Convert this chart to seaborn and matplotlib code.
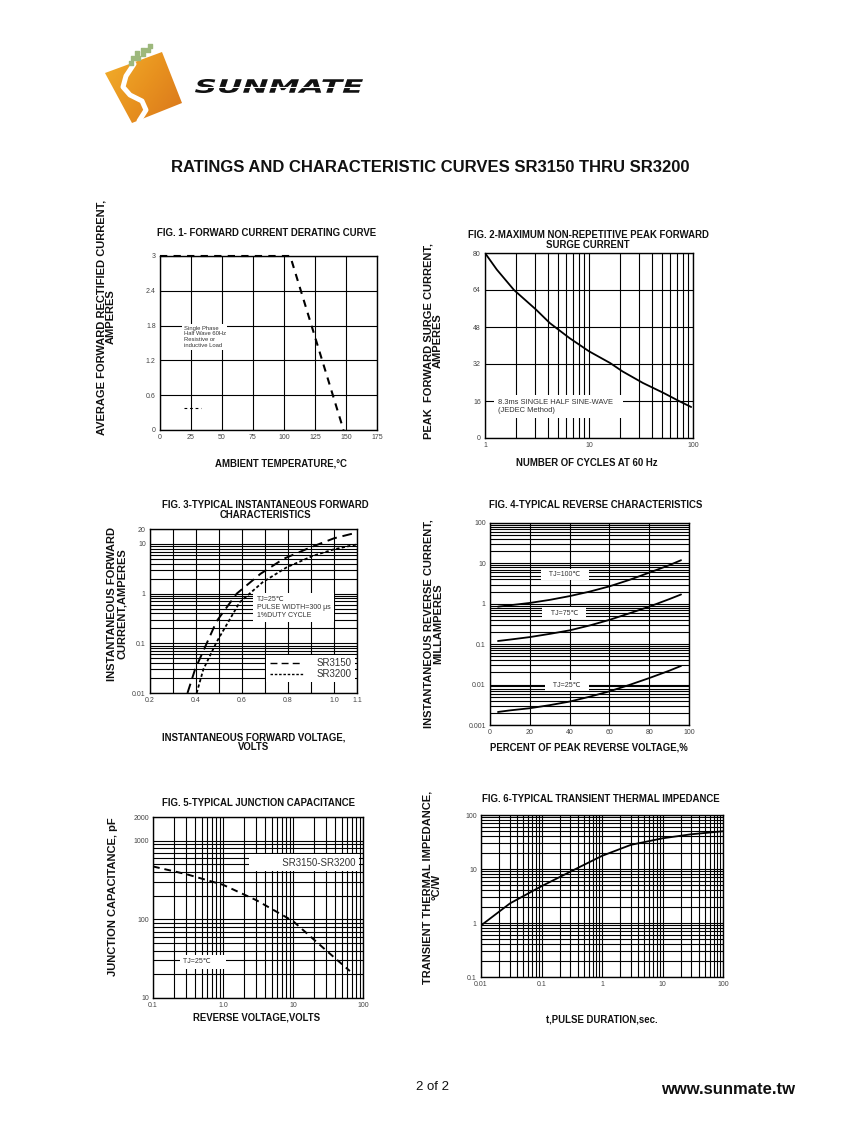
import numpy as np
import matplotlib
matplotlib.use("Agg")
import matplotlib.pyplot as plt
import seaborn as sns
from matplotlib.ticker import LogLocator, NullFormatter
from matplotlib.patches import Polygon, PathPatch
from matplotlib.lines import Line2D
from matplotlib.textpath import TextPath
from matplotlib.font_manager import FontProperties
from matplotlib.transforms import Affine2D
from matplotlib.colors import LinearSegmentedColormap

sns.set_theme(style="white")
plt.rcParams['font.family'] = ['Liberation Sans', 'DejaVu Sans']

# ---------------- data ----------------
# Fig. 1 forward current derating
fig1_temp = [0, 105, 148]
fig1_current = [3.0, 3.0, 0.0]

# Fig. 2 peak forward surge current
fig2_cycles = [1, 1.3, 1.9, 3.1, 4.2, 6.5, 10, 16, 21, 33, 52, 74, 96]
fig2_current = [80, 72.8, 64, 55.5, 49.7, 43.2, 37.5, 32.4, 28.8, 23.8, 19.5, 15.9, 13.4]

# Fig. 3 instantaneous forward characteristics
fig3_v_sr3150 = [0.363, 0.396, 0.49, 0.577, 0.68, 0.78, 0.897, 1.0, 1.1]
fig3_i_sr3150 = [0.01, 0.03, 0.28, 1.0, 2.5, 5.0, 8.5, 13, 17]
fig3_v_sr3200 = [0.403, 0.432, 0.49, 0.59, 0.69, 0.795, 0.91, 1.0, 1.1]
fig3_i_sr3200 = [0.01, 0.03, 0.107, 0.67, 1.7, 3.4, 5.8, 7.8, 9.8]

# Fig. 4 reverse characteristics
fig4_pct = [4, 10, 20, 30, 40, 50, 60, 70, 80, 90, 96]
fig4_tj100 = [0.85, 0.92, 1.05, 1.25, 1.55, 2.0, 2.7, 3.9, 5.9, 9.0, 12]
fig4_tj75 = [0.12, 0.13, 0.15, 0.18, 0.22, 0.29, 0.40, 0.58, 0.85, 1.3, 1.7]
fig4_tj25 = [0.0021, 0.0023, 0.0026, 0.0031, 0.0038, 0.005, 0.0068, 0.0098, 0.0145, 0.022, 0.029]

# Fig. 5 junction capacitance
fig5_volt = [0.1, 0.3, 1, 3, 10, 30, 65]
fig5_cap = [470, 375, 275, 175, 95, 40, 22]

# Fig. 6 transient thermal impedance
fig6_t = [0.01, 0.03, 0.1, 0.4, 1, 3, 10, 30, 100]
fig6_z = [0.9, 2.3, 4.8, 10.5, 17.5, 28, 37, 44, 50]

W, H = 847, 1125
fig = plt.figure(figsize=(W / 100, H / 100), dpi=100)

# page overlay in pixel coordinates (logo, titles, axis labels)
page = fig.add_axes([0, 0, 1, 1])
page.set_xlim(0, W)
page.set_ylim(H, 0)
page.axis('off')


def add_ax(l, t, r, b):
    return fig.add_axes([l / W, 1 - b / H, (r - l) / W, (b - t) / H])


def style(ax):
    ax.set_axisbelow(True)
    ax.grid(True, which='both', color='black', lw=0.8)
    ax.tick_params(which='both', length=0, labelsize=5.0, labelcolor='#444', pad=3)
    for s in ax.spines.values():
        s.set_color('black')
        s.set_linewidth(1.0)


def log_minor(axis):
    axis.set_minor_locator(LogLocator(base=10, subs=np.arange(2, 10) * 1.0, numticks=50))
    axis.set_minor_formatter(NullFormatter())


box = dict(boxstyle='square,pad=0.3', fc='white', ec='none')
title_kw = dict(fontsize=6.9, fontweight='bold', ha='center', va='center', linespacing=1.0, color='#111')
ylab_kw = dict(fontsize=8, fontweight='bold', ha='center', va='center', rotation=90,
               linespacing=0.95, multialignment='center', color='#111')
xlab_kw = dict(fontsize=6.9, fontweight='bold', ha='center', va='center', linespacing=1.0, color='#111')
TJ = 'TJ=25\u2103'

# ---------------- logo ----------------
sq = Polygon([(105, 73), (162, 52), (182, 103), (132, 123)], closed=True,
             fc='none', ec='none')
page.add_patch(sq)
grad = np.add.outer(np.linspace(0, 0.4, 64), np.linspace(0, 0.6, 64))
orange = LinearSegmentedColormap.from_list('o', ['#f3b12c', '#e8921f', '#d8741b'])
im = page.imshow(grad, cmap=orange, extent=(103, 185, 126, 50), aspect='auto', zorder=1)
im.set_clip_path(sq)
page.plot([134, 126, 123, 130, 142, 146, 139], [64, 76, 87, 95, 101, 110, 121],
          color='white', lw=3.6, solid_capstyle='round', solid_joinstyle='round', zorder=2)
page.scatter([150, 143, 148, 137, 143, 133, 138, 131], [46, 50, 50, 53, 54, 58, 58, 63],
             s=5, marker='s', color='#9db87c', zorder=2)
fp = FontProperties(family='DejaVu Sans', weight='bold', style='italic')
tp = TextPath((0, 0), 'SUNMATE', size=20, prop=fp)
ext = tp.get_extents()
tr = Affine2D().translate(-ext.x0, -ext.y0).scale(168 / ext.width, -14 / ext.height).translate(195, 93)
page.add_patch(PathPatch(tp, transform=tr + page.transData, fc='#111', ec='none', zorder=2))
page.plot([195, 363], [86.5, 86.5], color='white', lw=0.8, zorder=3)

page.text(430, 167, 'RATINGS AND CHARACTERISTIC CURVES SR3150 THRU SR3200',
          fontsize=12, fontweight='bold', ha='center', va='center', color='#111')
page.text(433, 1087, '2 of 2', fontsize=9.5, ha='center', va='center', color='#111')
page.text(728, 1090, 'www.sunmate.tw', fontsize=12, fontweight='bold', ha='center', va='center', color='#111')

# ---------------- Fig. 1 ----------------
ax1 = add_ax(160, 256, 377, 430)
sns.lineplot(x=fig1_temp, y=fig1_current, ax=ax1, color='black', lw=1.5,
             linestyle=(0, (3.5, 3)), estimator=None, zorder=5, clip_on=False)
ax1.set_xlim(0, 175)
ax1.set_ylim(0, 3)
ax1.set_xticks(np.arange(0, 176, 25))
ax1.set_yticks([0, 0.6, 1.2, 1.8, 2.4, 3])
ax1.set_yticklabels(['0', '0.6', '1.2', '1.8', '2.4', '3'])
style(ax1)
ax1.text(19, 1.80, 'Single Phase\nHalf Wave 60Hz\nResistive or\ninductive Load', fontsize=4.2,
         ha='left', va='top', color='#333', bbox=box, zorder=3)
ax1.legend(handles=[Line2D([], [], color='black', lw=0.8, ls=(0, (2.5, 2.5)))], labels=[''],
           loc='center', bbox_to_anchor=(0.16, 0.123), frameon=False, handlelength=3.2, fontsize=4)
page.text(267, 233, 'FIG. 1- FORWARD CURRENT DERATING CURVE', **title_kw)
page.text(106, 317, 'AVERAGE FORWARD RECTIFIED CURRENT,\nAMPERES', **ylab_kw)
page.text(281, 463, 'AMBIENT TEMPERATURE,\u00b0C', **xlab_kw)

# ---------------- Fig. 2 ----------------
ax2 = add_ax(485, 253, 693, 438)
ax2.set_xscale('log')
sns.lineplot(x=fig2_cycles, y=fig2_current, ax=ax2, color='black', lw=1.3, estimator=None, zorder=4)
ax2.set_xlim(1, 100)
ax2.set_ylim(0, 80)
ax2.set_xticks([1, 10, 100])
ax2.set_xticklabels(['1', '10', '100'])
log_minor(ax2.xaxis)
ax2.set_yticks([0, 16, 32, 48, 64, 80])
style(ax2)
ax2.text(1.33, 16.9, '8.3ms SINGLE HALF SINE-WAVE   \n(JEDEC Method)', fontsize=5.4, ha='left', va='top',
         color='#333', linespacing=1.3, bbox=dict(boxstyle='square,pad=0.5', fc='white', ec='none'), zorder=3)
page.text(588, 239.5, 'FIG. 2-MAXIMUM NON-REPETITIVE PEAK FORWARD\nSURGE CURRENT', **title_kw)
page.text(433, 341, 'PEAK  FORWARD SURGE CURRENT,\nAMPERES', **ylab_kw)
page.text(587, 463, 'NUMBER OF CYCLES AT 60 Hz', **xlab_kw)

# ---------------- Fig. 3 ----------------
ax3 = add_ax(150, 529, 357, 693)
ax3.set_yscale('log')
sns.lineplot(x=fig3_v_sr3150, y=fig3_i_sr3150, ax=ax3, color='black', lw=1.4,
             linestyle=(0, (5, 3)), estimator=None, label='SR3150', zorder=4)
sns.lineplot(x=fig3_v_sr3200, y=fig3_i_sr3200, ax=ax3, color='black', lw=1.3,
             linestyle=(0, (1.8, 1.3)), estimator=None, label='SR3200', zorder=4)
ax3.set_xlim(0.2, 1.1)
ax3.set_ylim(0.01, 20)
ax3.set_xticks([0.2, 0.4, 0.6, 0.8, 1.0, 1.1])
ax3.set_xticklabels(['0.2', '0.4', '0.6', '0.8', '1.0', '1.1'])
ax3.set_xticks([0.3, 0.5, 0.7, 0.9], minor=True)
ax3.set_yticks([0.01, 0.1, 1, 10, 20])
ax3.set_yticklabels(['0.01', '0.1', '1', '10', '20'])
log_minor(ax3.yaxis)
style(ax3)
ax3.text(0.665, 0.88, TJ + '\nPULSE WIDTH=300 \u03bcs\n1%DUTY CYCLE      ', fontsize=5.0,
         ha='left', va='top', color='#333', linespacing=1.15,
         bbox=dict(boxstyle='square,pad=0.5', fc='white', ec='none'), zorder=3)
leg = ax3.legend(loc='lower right', bbox_to_anchor=(0.99, 0.065), fontsize=7, handlelength=3.4,
                 frameon=True, fancybox=False, framealpha=1, borderpad=0.35, labelspacing=0.1,
                 borderaxespad=0, handletextpad=1.4)
leg.get_frame().set_edgecolor('none')
for t in leg.get_texts():
    t.set_color('#333')
for ln in leg.get_lines():
    ln.set_linewidth(1.0)
page.text(265, 510, 'FIG. 3-TYPICAL INSTANTANEOUS FORWARD\nCHARACTERISTICS', **title_kw)
page.text(117, 604, 'INSTANTANEOUS FORWARD\nCURRENT,AMPERES', **ylab_kw)
page.text(254, 742, 'INSTANTANEOUS FORWARD VOLTAGE,\nVOLTS', **xlab_kw)

# ---------------- Fig. 4 ----------------
ax4 = add_ax(490, 523, 689, 725)
ax4.set_yscale('log')
for vals in (fig4_tj100, fig4_tj75, fig4_tj25):
    sns.lineplot(x=fig4_pct, y=vals, ax=ax4, color='black', lw=1.3, estimator=None, zorder=4)
ax4.set_xlim(0, 100)
ax4.set_ylim(0.001, 100)
ax4.set_xticks([0, 20, 40, 60, 80, 100])
ax4.set_yticks([0.001, 0.01, 0.1, 1, 10, 100])
ax4.set_yticklabels(['0.001', '0.01', '0.1', '1', '10', '100'])
log_minor(ax4.yaxis)
style(ax4)
for lab, yy, xx in (('TJ=100\u2103', 5.2, 37.6), ('TJ=75\u2103', 0.59, 37.3), ('TJ=25\u2103', 0.0095, 38.8)):
    ax4.text(xx, yy, '   ' + lab + '   ', fontsize=5.0, ha='center', va='center', color='#333',
             bbox=box, zorder=3)
page.text(596, 505, 'FIG. 4-TYPICAL REVERSE CHARACTERISTICS', **title_kw)
page.text(433, 624, 'INSTANTANEOUS REVERSE CURRENT,\nMILLAMPERES', **ylab_kw)
page.text(589, 748, 'PERCENT OF PEAK REVERSE VOLTAGE,%', **xlab_kw)

# ---------------- Fig. 5 ----------------
ax5 = add_ax(153, 817, 363, 998)
ax5.set_xscale('log')
ax5.set_yscale('log')
sns.lineplot(x=fig5_volt, y=fig5_cap, ax=ax5, color='black', lw=1.4,
             linestyle=(0, (3.5, 2.5)), estimator=None, zorder=4)
ax5.set_xlim(0.1, 100)
ax5.set_ylim(10, 2000)
ax5.set_xticks([0.1, 1, 10, 100])
ax5.set_xticklabels(['0.1', '1.0', '10', '100'])
ax5.set_yticks([10, 100, 1000, 2000])
ax5.set_yticklabels(['10', '100', '1000', '2000'])
log_minor(ax5.xaxis)
log_minor(ax5.yaxis)
style(ax5)
ax5.text(78, 525, '           SR3150-SR3200', fontsize=7, ha='right', va='center', color='#333',
         bbox=dict(boxstyle='square,pad=0.35', fc='white', ec='none'), zorder=3)
ax5.text(0.27, 29, TJ + '      ', fontsize=5.0, ha='left', va='center', color='#333',
         bbox=dict(boxstyle='square,pad=0.5', fc='white', ec='none'), zorder=3)
page.text(258, 803, 'FIG. 5-TYPICAL JUNCTION CAPACITANCE', **title_kw)
page.text(113, 897, 'JUNCTION CAPACITANCE, pF', **ylab_kw)
page.text(257, 1018, 'REVERSE VOLTAGE,VOLTS', **xlab_kw)

# ---------------- Fig. 6 ----------------
ax6 = add_ax(481, 815, 723, 977)
ax6.set_xscale('log')
ax6.set_yscale('log')
sns.lineplot(x=fig6_t, y=fig6_z, ax=ax6, color='black', lw=1.3, estimator=None, zorder=4)
ax6.set_xlim(0.01, 100)
ax6.set_ylim(0.1, 100)
ax6.set_xticks([0.01, 0.1, 1, 10, 100])
ax6.set_xticklabels(['0.01', '0.1', '1', '10', '100'])
ax6.set_yticks([0.1, 1, 10, 100])
ax6.set_yticklabels(['0.1', '1', '10', '100'])
log_minor(ax6.xaxis)
log_minor(ax6.yaxis)
style(ax6)
page.text(601, 799, 'FIG. 6-TYPICAL TRANSIENT THERMAL IMPEDANCE', **title_kw)
page.text(432, 887, 'TRANSIENT THERMAL IMPEDANCE,\n\u00b0C/W', **ylab_kw)
page.text(602, 1019, 't,PULSE DURATION,sec.', **xlab_kw)

fig.savefig('out.png', dpi=100)
